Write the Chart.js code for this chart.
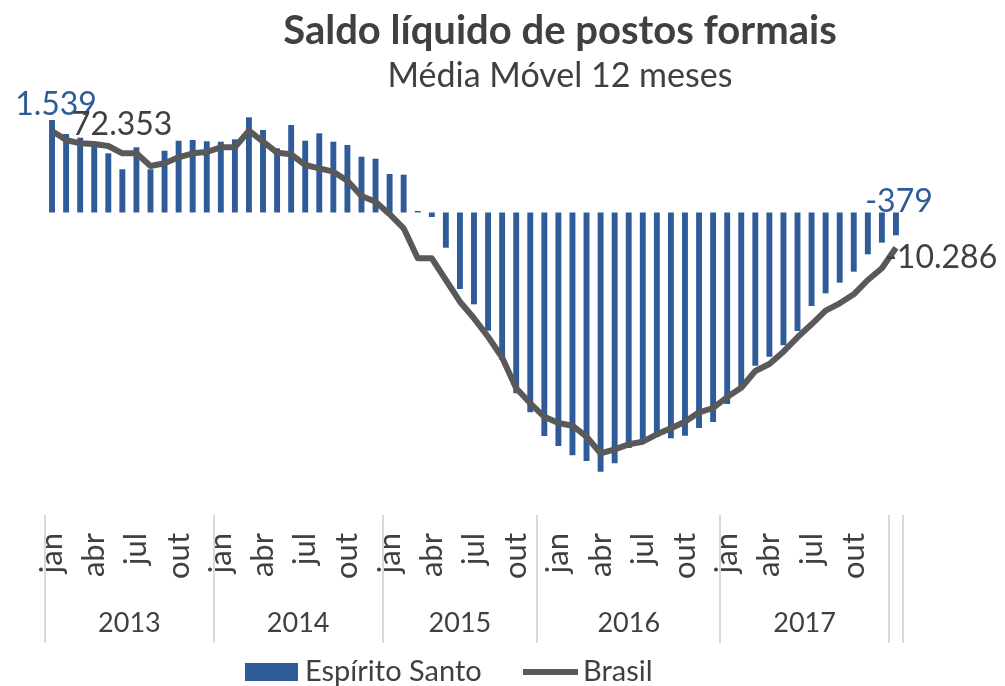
<!DOCTYPE html>
<html>
<head>
<meta charset="utf-8">
<script src="https://cdn.jsdelivr.net/npm/chart.js@4.4.0/dist/chart.umd.min.js"></script>
<style>
  html, body { margin: 0; padding: 0; background: #fff; }
  #wrap { width: 1005px; height: 686px; position: relative; }
</style>
</head>
<body>
<div id="wrap"><canvas id="saldoChart"></canvas></div>
<script>
// meses jan/2013 .. jan/2018
let monthNames = ['jan','fev','mar','abr','mai','jun','jul','ago','set','out','nov','dez'];
let yearLabels = ['2013', '2014', '2015', '2016', '2017', ''];
let yearSpans = [12, 12, 11, 13, 12, 1];   // how the year groups sit in the original sheet

let espiritoSanto = [
  1539, 1306, 1245, 1168, 985, 719, 1085, 719, 1028, 1195, 1206, 1185,
  1178, 1218, 1584, 1373, 1068, 1456, 1195, 1318, 1178, 1123, 929, 895,
  641, 629, 25, -75, -586, -1273, -1528, -1967, -2454, -3009, -3325, -3719,
  -3885, -4040, -4135, -4313, -4173, -3919, -3835, -3735, -3757, -3714, -3586, -3486,
  -3187, -2900, -2549, -2400, -2210, -1972, -1556, -1345, -1168, -985, -696, -502,
  -379
];

let brasil = [
  72353, 66000, 63660, 63160, 61750, 56580, 56580, 47580, 49500, 53740, 56580, 57500,
  60830, 60830, 72580, 64790, 57000, 55870, 48290, 45950, 43550, 37180, 26340, 22300,
  13500, 3470, -17770, -17770, -33140, -48500, -60260, -73290, -88000, -109830, -120450, -130000,
  -134400, -136310, -144100, -155860, -153030, -149480, -147640, -142400, -138150, -133480, -126820, -123770,
  -116000, -109400, -97580, -92620, -83910, -73710, -64510, -54880, -49640, -43270, -33140, -24850,
  -10286
];

let labels = [];
for (let i = 0; i < espiritoSanto.length; i++) {
  labels.push(monthNames[i % 12]);
}

let blue = '#2f5c99';
let gray = '#595959';
let textColor = '#404040';
let fontName = 'Lato, "Open Sans", sans-serif';

function fmt(v) {
  return String(Math.round(v)).replace(/\B(?=(\d{3})+(?!\d))/g, '.');
}

// year groups, data labels, title and legend
let extrasPlugin = {
  id: 'extras',
  afterDraw(chart) {
    let ctx = chart.ctx;
    let x = chart.scales.x;
    let area = chart.chartArea;
    let half = (x.getPixelForValue(1) - x.getPixelForValue(0)) / 2;

    ctx.save();

    // separators + years
    ctx.strokeStyle = '#d9d9d9';
    ctx.lineWidth = 2;
    ctx.fillStyle = textColor;
    ctx.font = '27px ' + fontName;
    ctx.textAlign = 'center';
    ctx.textBaseline = 'middle';
    let start = 0;
    let edges = [x.getPixelForValue(0) - half];
    yearSpans.forEach((span, k) => {
      let end = start + span;
      let right = x.getPixelForValue(end - 1) + half;
      edges.push(right);
      let left = x.getPixelForValue(start) - half;
      if (yearLabels[k]) ctx.fillText(yearLabels[k], (left + right) / 2, area.bottom + 108);
      start = end;
    });
    edges.forEach(e => {
      ctx.beginPath();
      ctx.moveTo(Math.round(e), area.bottom);
      ctx.lineTo(Math.round(e), area.bottom + 128);
      ctx.stroke();
    });

    // first/last value labels
    let bars = chart.getDatasetMeta(0).data;
    let pts = chart.getDatasetMeta(1).data;
    let last = bars.length - 1;
    ctx.font = '32px ' + fontName;
    ctx.fillStyle = blue;
    ctx.textAlign = 'center';
    ctx.fillText(fmt(espiritoSanto[0]), bars[0].x + 4, bars[0].y - 15);
    ctx.fillText(fmt(espiritoSanto[last]), bars[last].x + 3, bars[last].base - 11);
    ctx.fillStyle = textColor;
    ctx.textAlign = 'left';
    ctx.fillText(fmt(brasil[0]), pts[0].x + 20, pts[0].y - 6);
    ctx.fillText(fmt(brasil[last]), pts[last].x - 11, pts[last].y + 10);

    // title
    ctx.textAlign = 'center';
    ctx.font = 'bold 40px ' + fontName;
    ctx.fillText('Saldo líquido de postos formais', 560, 31);
    ctx.font = '34px ' + fontName;
    ctx.fillText('Média Móvel 12 meses', 560, 76);

    // legend
    ctx.fillStyle = blue;
    ctx.fillRect(245, 663, 53, 18);
    ctx.strokeStyle = gray;
    ctx.lineWidth = 6;
    ctx.beginPath();
    ctx.moveTo(523, 672);
    ctx.lineTo(578, 672);
    ctx.stroke();
    ctx.fillStyle = textColor;
    ctx.font = '29px ' + fontName;
    ctx.textAlign = 'left';
    ctx.fillText('Espírito Santo', 305, 672);
    ctx.fillText('Brasil', 583, 672);

    ctx.restore();
  }
};

let saldoChart = new Chart(document.getElementById('saldoChart'), {
  type: 'bar',
  data: {
    labels: labels,
    datasets: [
      {
        type: 'bar',
        label: 'Espírito Santo',
        data: espiritoSanto,
        backgroundColor: blue,
        yAxisID: 'y',
        categoryPercentage: 1,
        barPercentage: 0.42,
        order: 2
      },
      {
        type: 'line',
        label: 'Brasil',
        data: brasil,
        borderColor: gray,
        borderWidth: 6,
        pointRadius: 0,
        tension: 0,
        borderJoinStyle: 'round',
        yAxisID: 'y1',
        order: 1
      }
    ]
  },
  options: {
    responsive: true,
    maintainAspectRatio: false,
    animation: false,
    layout: { padding: { left: 45, right: 102, top: 100, bottom: 0 } },
    plugins: {
      legend: { display: false },
      title: { display: false },
      tooltip: { enabled: false }
    },
    scales: {
      x: {
        offset: true,
        grid: { display: false, drawTicks: false },
        border: { display: false },
        ticks: {
          autoSkip: false,
          minRotation: 90,
          maxRotation: 90,
          padding: 18,
          color: textColor,
          font: { family: fontName, size: 31 },
          callback: (val, i) => (i % 3 === 0 && i < labels.length - 1) ? labels[i] : ''
        },
        afterFit: (scale) => { scale.height = 171; }
      },
      y: {
        position: 'left',
        min: -5034,
        max: 1872,
        ticks: { display: false, stepSize: 1000 },
        grid: {
          drawTicks: false,
          lineWidth: 2,
          color: (c) => c.tick && c.tick.value === 0 ? '#d9d9d9' : 'rgba(0,0,0,0)'
        },
        border: { display: false }
      },
      y1: {
        position: 'right',
        display: false,
        min: -199540,
        max: 94320
      }
    }
  },
  plugins: [extrasPlugin]
});
</script>
</body>
</html>
